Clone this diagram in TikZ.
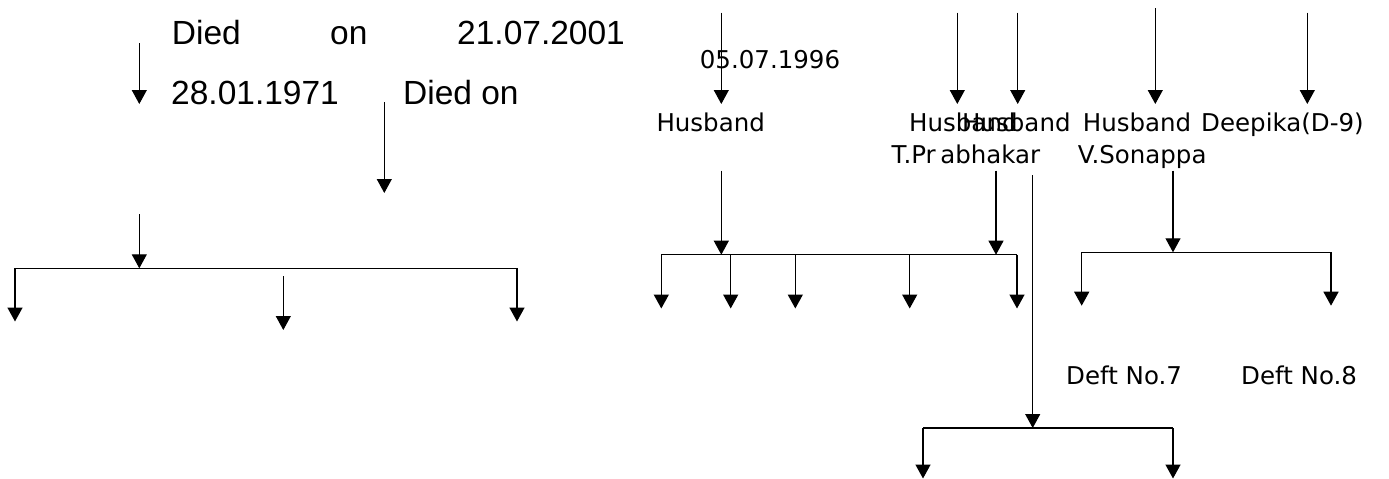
\documentclass[tikz,border=0pt]{standalone}
\usepackage{fontspec}
\usetikzlibrary{arrows.meta}
\newfontfamily\arialfont{Liberation Sans}
\newfontfamily\dvsfont{DejaVu Sans}
\begin{document}
\begin{tikzpicture}[x=1pt,y=-1pt,
  arr/.style={line width=1.1pt,-{Triangle[width=15pt,length=14pt]}},
  drop/.style={line width=1.5pt,-{Triangle[width=15pt,length=14pt]}},
  barline/.style={line width=1.1pt},
  big/.style={inner sep=0pt,anchor=base west,font=\arialfont\fontsize{33.5pt}{40pt}\selectfont},
  small/.style={inner sep=0pt,anchor=base west,font=\dvsfont\fontsize{24.5pt}{29pt}\selectfont}]
\useasboundingbox (0,0) rectangle (1389,479);
% ---------- left texts
\node[big] (died1) at (171.7,44) {Died};
\node[big] (on1) at (330,44) {on};
\node[big] (d2001) at (457,44) {21.07.2001};
\node[big] (d1971) at (171,104) {28.01.1971};
\node[big] (died2) at (403,104) {Died on};
% ---------- left arrows
\coordinate (a1s) at (139.3,43);  \coordinate (a1e) at (139.3,104);
\coordinate (a2s) at (384.3,102); \coordinate (a2e) at (384.3,193);
\coordinate (a3s) at (139.3,214); \coordinate (a3e) at (139.3,268.3);
\coordinate (lbl) at (15,268.3);  \coordinate (lbr) at (517,268.3);
\coordinate (lbld) at (15,321.5); \coordinate (lbrd) at (517,321.5);
\coordinate (a4s) at (283.3,276); \coordinate (a4e) at (283.3,330);
\draw[arr] (a1s) -- (a1e);
\draw[arr] (a2s) -- (a2e);
\draw[arr] (a3s) -- (a3e);
\draw[barline] (lbl) -- (lbr);
\draw[drop] (lbl) -- (lbld);
\draw[drop] (lbr) -- (lbrd);
\draw[arr] (a4s) -- (a4e);
% ---------- right texts
\node[small] (d1996) at (699.7,68) {05.07.1996};
\node[small] (hus1) at (656.3,131.7) {Husband};
\node[small] (hus2) at (909,131.7) {Husband};
\node[small] (hus3) at (962,131.7) {Husband};
\node[small] (hus4) at (1082.7,131.7) {Husband};
\node[small] (deep) at (1201,131.7) {Deepika(D-9)};
\node[small] (tpr) at (891.3,163.3) {T.Pr\hspace{4.5pt}abhakar};
\node[small] (vson) at (1077.7,163.3) {V.Sonappa};
\node[small] (deft7) at (1066,384.7) {Deft No.7};
\node[small] (deft8) at (1241,384.7) {Deft No.8};
% ---------- right arrows, top row
\coordinate (h1s) at (721.3,12.7);  \coordinate (h1e) at (721.3,104);
\coordinate (h2s) at (957.3,12.7);  \coordinate (h2e) at (957.3,104);
\coordinate (h3s) at (1017.7,12.7); \coordinate (h3e) at (1017.7,104);
\coordinate (h4s) at (1155.3,8.3);  \coordinate (h4e) at (1155.3,104);
\coordinate (h5s) at (1307.3,12.7); \coordinate (h5e) at (1307.3,104);
\draw[arr] (h1s) -- (h1e);
\draw[arr] (h2s) -- (h2e);
\draw[arr] (h3s) -- (h3e);
\draw[arr] (h4s) -- (h4e);
\draw[arr] (h5s) -- (h5e);
% ---------- middle group
\coordinate (m1s) at (721.3,170.7); \coordinate (m1e) at (721.3,254.7);
\coordinate (m2s) at (996,170.7);   \coordinate (m2e) at (996,254.7);
\coordinate (mbl) at (661.3,254.7); \coordinate (mbr) at (1017,254.7);
\draw[arr] (m1s) -- (m1e);
\draw[arr] (m2s) -- (m2e);
\draw[barline] (mbl) -- (mbr);
\foreach \xx/\nm in {661.3/c1,730.7/c2,795.3/c3,909.7/c4,1017/c5}{
  \coordinate (\nm t) at (\xx,254.7);
  \coordinate (\nm b) at (\xx,308.5);
  \draw[drop] (\nm t) -- (\nm b);
}
% ---------- long line and bottom group
\coordinate (ls) at (1032.7,175); \coordinate (le) at (1032.7,428);
\draw[arr] (ls) -- (le);
\coordinate (bbl) at (923,428); \coordinate (bbr) at (1173,428);
\coordinate (bbld) at (923,478.5); \coordinate (bbrd) at (1173,478.5);
\draw[barline] (bbl) -- (bbr);
\draw[drop] (bbl) -- (bbld);
\draw[drop] (bbr) -- (bbrd);
% ---------- right group
\coordinate (vs) at (1173,170.7); \coordinate (ve) at (1173,252.3);
\draw[arr] (vs) -- (ve);
\coordinate (rbl) at (1081.7,252.3); \coordinate (rbr) at (1331,252.3);
\coordinate (rbld) at (1081.7,305.7); \coordinate (rbrd) at (1331,305.7);
\draw[barline] (rbl) -- (rbr);
\draw[drop] (rbl) -- (rbld);
\draw[drop] (rbr) -- (rbrd);
\end{tikzpicture}
\end{document}
